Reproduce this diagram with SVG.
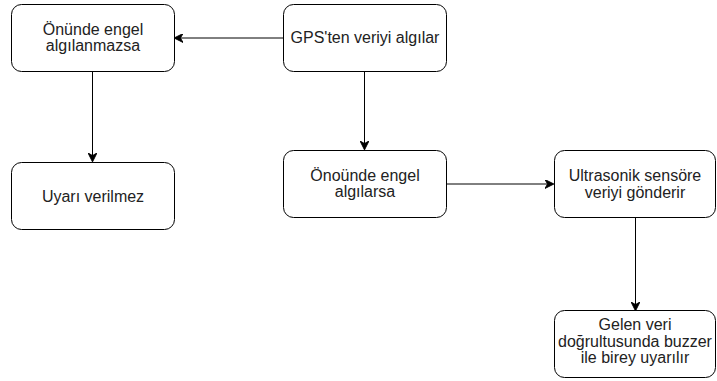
<svg xmlns="http://www.w3.org/2000/svg" width="717" height="381" viewBox="0 0 717 381">
<defs>
<style>
.box{fill:#fff;stroke:#000;stroke-width:1}
.t{font-family:"Liberation Sans",Arial,sans-serif;font-size:16px;fill:#222;text-anchor:middle}
.c{stroke:#000;stroke-width:1;fill:none;marker-end:url(#ah)}
</style>
<marker id="ah" viewBox="0 0 10 10" refX="9" refY="5" markerWidth="9" markerHeight="9" markerUnits="userSpaceOnUse" orient="auto">
<path d="M0,0 L10,5 L0,10 L3,5 Z" fill="#000" stroke="#000" stroke-width="1"/>
</marker>
</defs>
<rect width="717" height="381" fill="#fff"/>
<g id="connectors">
<path class="c" d="M283,38 L175,38"/>
<path class="c" d="M92.5,71 L92.5,161"/>
<path class="c" d="M364.5,71 L364.5,149"/>
<path class="c" d="M446,184 L553,184"/>
<path class="c" d="M635.5,218 L635.5,310"/>
</g>
<g id="n1"><rect class="box" x="11.5" y="4.5" width="163" height="67" rx="10"/>
<text class="t" x="93" y="34.5">Önünde engel</text><text class="t" x="93" y="51">algılanmazsa</text></g>
<g id="n2"><rect class="box" x="283.5" y="4.5" width="163" height="67" rx="10"/>
<text class="t" x="365" y="43">GPS'ten veriyi algılar</text></g>
<g id="n3"><rect class="box" x="11.5" y="162.5" width="163" height="67" rx="10"/>
<text class="t" x="93" y="201.5">Uyarı verilmez</text></g>
<g id="n4"><rect class="box" x="283.5" y="150.5" width="163" height="67" rx="10"/>
<text class="t" x="365" y="180.5">Önoünde engel</text><text class="t" x="365" y="197">algılarsa</text></g>
<g id="n5"><rect class="box" x="554.5" y="150.5" width="161" height="67" rx="10"/>
<text class="t" x="635" y="181">Ultrasonik sensöre</text><text class="t" x="635" y="197.5">veriyi gönderir</text></g>
<g id="n6"><rect class="box" x="554.5" y="310.5" width="161" height="67" rx="10"/>
<text class="t" x="635" y="330">Gelen veri</text><text class="t" x="635" y="346.5">doğrultusunda buzzer</text><text class="t" x="635" y="363">ile birey uyarılır</text></g>
</svg>
